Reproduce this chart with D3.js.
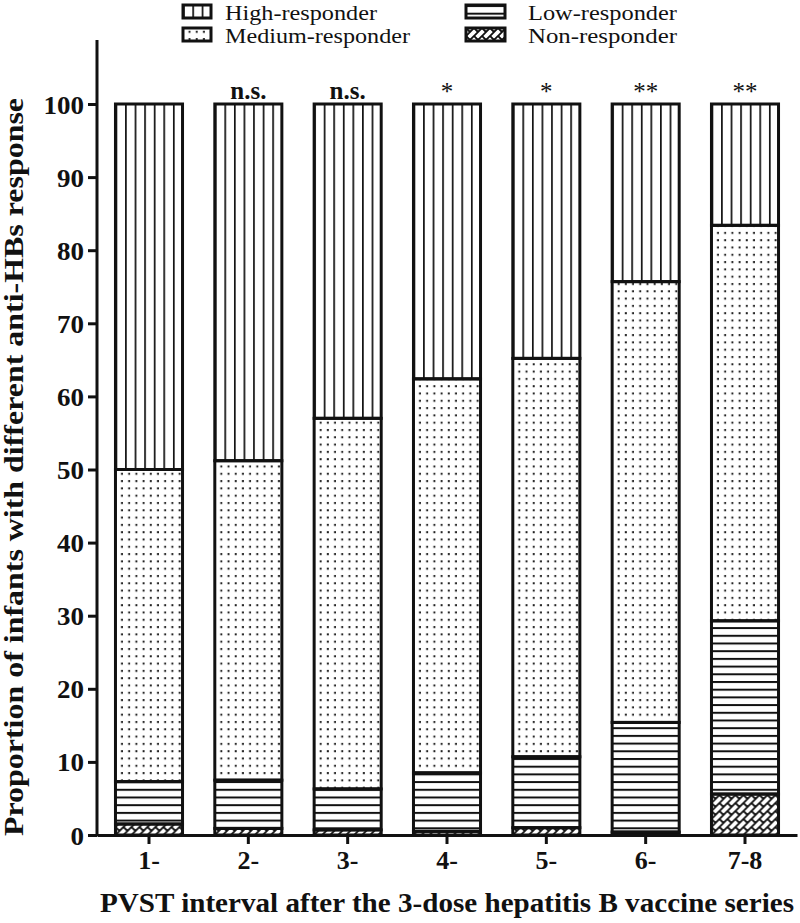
<!DOCTYPE html>
<html>
<head>
<meta charset="utf-8">
<script src="https://cdn.jsdelivr.net/npm/d3@7"></script>
<style>
  body { margin: 0; background: #fff; }
  text { font-family: "Liberation Serif", "Times New Roman", serif; fill: #111; }
</style>
</head>
<body>
<svg id="chart" width="800" height="923"></svg>
<script>
// PVST interval groups
var intervals = ["1-", "2-", "3-", "4-", "5-", "6-", "7-8"];

// percent of infants in each response group (stacked bottom -> top)
var nonResponder    = [1.5, 0.9, 0.7, 0.5, 1.0, 0.4, 5.6];
var lowResponder    = [5.8, 6.6, 5.6, 8.0, 9.7, 15.0, 23.7];
var mediumResponder = [42.7, 43.7, 50.7, 53.9, 54.5, 60.3, 54.1];
var highResponder   = [50.0, 48.8, 43.0, 37.6, 34.8, 24.3, 16.6];

var sigLabels = ["", "n.s.", "n.s.", "*", "*", "**", "**"];
var yTicks = [0, 10, 20, 30, 40, 50, 60, 70, 80, 90, 100];

var keys = ["non", "low", "medium", "high"];

var rows = intervals.map(function (d, i) {
  return { interval: d, non: nonResponder[i], low: lowResponder[i],
           medium: mediumResponder[i], high: highResponder[i] };
});

var svg = d3.select("#chart");
var defs = svg.append("defs");

var x = d3.scaleBand()
  .domain(intervals)
  .range([97, 797])
  .paddingInner(0.325)
  .paddingOuter(0.186);

var y = d3.scaleLinear().domain([0, 100]).range([835, 104]);

// patterns, one set per bar so the stripes line up with the bar edges
function makePattern(id, type, x0, y0, w) {
  var p, step;
  if (type === "high") {
    step = w / 7;
    p = defs.append("pattern").attr("id", id).attr("patternUnits", "userSpaceOnUse")
      .attr("x", x0).attr("y", 0).attr("width", step).attr("height", 10);
    p.append("line").attr("x1", 0).attr("x2", 0).attr("y1", 0).attr("y2", 10)
      .attr("stroke", "#111").attr("stroke-width", 3.4);
  } else if (type === "medium") {
    p = defs.append("pattern").attr("id", id).attr("patternUnits", "userSpaceOnUse")
      .attr("x", x0 + 3).attr("y", y0).attr("width", 7.2).attr("height", 7.3);
    p.append("rect").attr("x", 2.5).attr("y", 2.8).attr("width", 2).attr("height", 2)
      .attr("fill", "#222");
  } else if (type === "low") {
    p = defs.append("pattern").attr("id", id).attr("patternUnits", "userSpaceOnUse")
      .attr("x", 0).attr("y", y0).attr("width", 10).attr("height", 7.7);
    p.append("line").attr("x1", 0).attr("x2", 10).attr("y1", 0).attr("y2", 0)
      .attr("stroke", "#111").attr("stroke-width", 4);
  } else {
    p = defs.append("pattern").attr("id", id).attr("patternUnits", "userSpaceOnUse")
      .attr("x", x0).attr("y", y0).attr("width", 8).attr("height", 8);
    p.append("path")
      .attr("d", "M0,8L8,0M-2,2L2,-2M6,10L10,6M0,0L4,4")
      .attr("stroke", "#111").attr("stroke-width", 1.9).attr("fill", "none");
  }
}

intervals.forEach(function (d, i) {
  keys.forEach(function (k) {
    makePattern(k + "-" + i, k, x(d), y(0), x.bandwidth());
  });
});

var stacked = d3.stack().keys(keys)(rows);

var bars = svg.append("g").attr("class", "bars");
stacked.forEach(function (layer) {
  bars.append("g").selectAll("rect")
    .data(layer)
    .enter()
    .append("rect")
    .attr("x", function (d) { return x(d.data.interval); })
    .attr("y", function (d) { return y(d[1]); })
    .attr("width", x.bandwidth())
    .attr("height", function (d) { return y(d[0]) - y(d[1]); })
    .attr("fill", function (d, i) { return "url(#" + layer.key + "-" + i + ")"; })
    .attr("stroke", "#111")
    .attr("stroke-width", 3);
});

// axes
var yAxis = svg.append("g")
  .attr("transform", "translate(97,0)")
  .call(d3.axisLeft(y).tickValues(yTicks).tickSize(9).tickPadding(4).tickSizeOuter(0));
yAxis.select(".domain").remove();
yAxis.append("line").attr("x1", 0).attr("x2", 0).attr("y1", 40).attr("y2", 836)
  .attr("stroke", "#111").attr("stroke-width", 3);
yAxis.selectAll(".tick line").attr("stroke", "#111").attr("stroke-width", 3);
yAxis.selectAll(".tick text")
  .attr("fill", "#111").attr("dy", "0.36em")
  .attr("font-family", "Liberation Serif").attr("font-weight", "bold").attr("font-size", 25)
  .attr("textLength", function (d) { return String(d).length * 13.5; })
  .attr("lengthAdjust", "spacingAndGlyphs");

var xAxis = svg.append("g")
  .attr("transform", "translate(0,835)")
  .call(d3.axisBottom(x).tickSize(9).tickPadding(7).tickSizeOuter(0));
xAxis.select(".domain").attr("stroke", "#111").attr("stroke-width", 3);
xAxis.selectAll(".tick line").attr("stroke", "#111").attr("stroke-width", 3);
xAxis.selectAll(".tick text")
  .attr("fill", "#111")
  .attr("font-family", "Liberation Serif").attr("font-weight", "bold").attr("font-size", 26);

// significance marks
svg.append("g").selectAll("text")
  .data(intervals)
  .enter()
  .append("text")
  .attr("x", function (d) { return x(d) + x.bandwidth() / 2; })
  .attr("y", function (d, i) { return sigLabels[i] === "n.s." ? 99 : 100; })
  .attr("text-anchor", "middle")
  .style("font-weight", function (d, i) { return sigLabels[i] === "n.s." ? "bold" : "normal"; })
  .style("font-size", "25px")
  .text(function (d, i) { return sigLabels[i]; });

// axis titles
svg.append("text")
  .attr("x", 447).attr("y", 912)
  .attr("text-anchor", "middle")
  .attr("textLength", 694).attr("lengthAdjust", "spacingAndGlyphs")
  .style("font-weight", "bold").style("font-size", "28px")
  .text("PVST interval after the 3-dose hepatitis B vaccine series");

svg.append("text")
  .attr("transform", "translate(23,467) rotate(-90)")
  .attr("text-anchor", "middle")
  .attr("textLength", 738).attr("lengthAdjust", "spacingAndGlyphs")
  .style("font-weight", "bold").style("font-size", "27px")
  .text("Proportion of infants with different anti-HBs response");

// legend
var legendItems = [
  { key: "high",   label: "High-responder",   bx: 183, by: 5,  bw: 28, tx: 225, tl: 152 },
  { key: "medium", label: "Medium-responder", bx: 183, by: 28, bw: 28, tx: 225, tl: 185 },
  { key: "low",    label: "Low-responder",    bx: 466, by: 5,  bw: 39, tx: 528, tl: 149 },
  { key: "non",    label: "Non-responder",    bx: 466, by: 28, bw: 39, tx: 528, tl: 149 }
];
var legend = svg.append("g").attr("class", "legend");
legendItems.forEach(function (d) {
  makePattern("leg-" + d.key, d.key, d.bx, d.by, d.bw * 7 / 3);
  legend.append("rect")
    .attr("x", d.bx).attr("y", d.by).attr("width", d.bw).attr("height", 13)
    .attr("fill", "url(#leg-" + d.key + ")")
    .attr("stroke", "#111").attr("stroke-width", 3);
  legend.append("text")
    .attr("x", d.tx).attr("y", d.by + 15)
    .attr("textLength", d.tl).attr("lengthAdjust", "spacingAndGlyphs")
    .style("font-size", "21px")
    .text(d.label);
});
</script>
</body>
</html>
